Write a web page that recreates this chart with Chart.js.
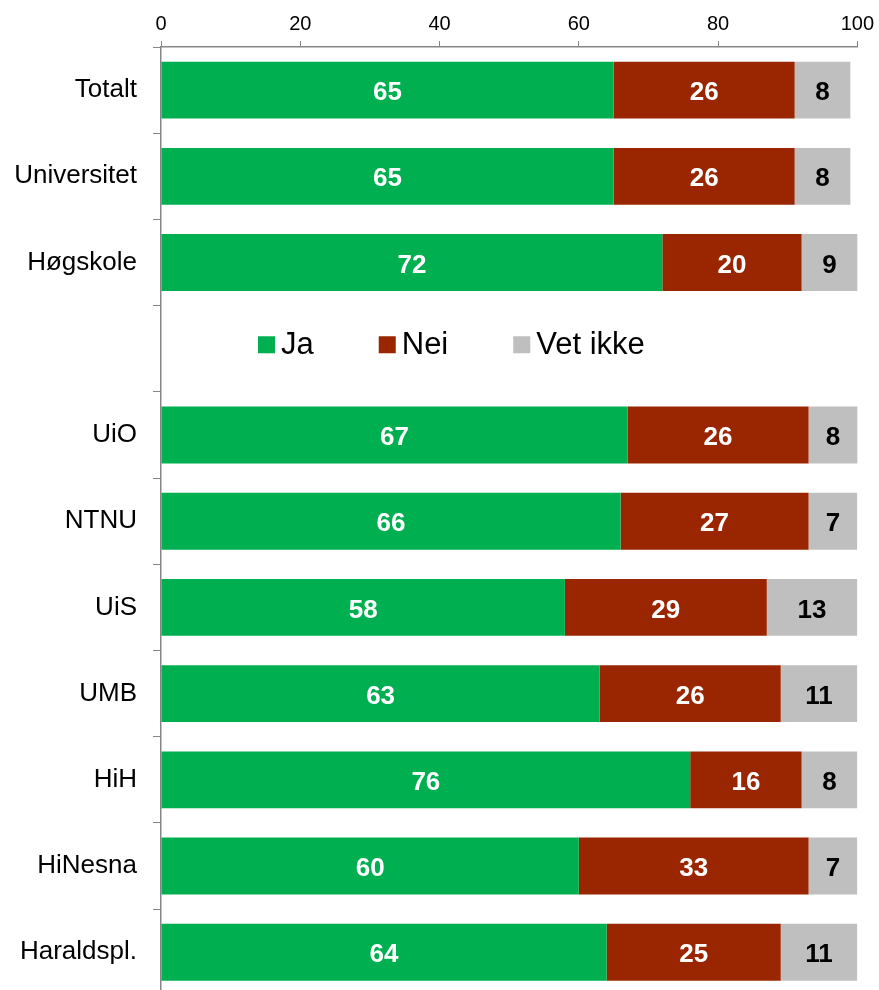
<!DOCTYPE html>
<html>
<head>
<meta charset="utf-8">
<script src="https://cdn.jsdelivr.net/npm/chart.js@4/dist/chart.umd.min.js"></script>
<style>
  html, body { margin: 0; padding: 0; background: #fff; width: 879px; height: 990px; overflow: hidden; }
  #wrap { width: 879px; height: 1027px; }
</style>
</head>
<body>
<div id="wrap"><canvas id="chart" width="879" height="1027"></canvas></div>
<script>
/* Stacked horizontal bars: Ja / Nei / Vet ikke per institution.
   The plot runs past the bottom of the window, like the original. */

const categories = ['Totalt', 'Universitet', 'Høgskole', '', 'UiO', 'NTNU', 'UiS', 'UMB', 'HiH', 'HiNesna', 'Haraldspl.'];
const ja      = [65, 65, 72, null, 67, 66, 58, 63, 76, 60, 64];
const nei     = [26, 26, 20, null, 26, 27, 29, 26, 16, 33, 25];
const vetIkke = [8, 8, 9, null, 8, 7, 13, 11, 8, 7, 11];
const seriesNames = ['Ja', 'Nei', 'Vet ikke'];
const xTicks = [0, 20, 40, 60, 80, 100];

const PALETTE = {
  green: '#00b050',
  red: '#992600',
  grey: '#bfbfbf',
  axis: '#868686',
  text: '#000000',
};
const FONT = '"Liberation Sans", Arial, sans-serif';
const LABEL_COLORS = ['#ffffff', '#ffffff', '#000000'];
const LEGEND_ROW = 3; // the empty category row holds the legend

// values written inside each bar segment
const barLabels = {
  id: 'barLabels',
  afterDatasetsDraw(chart) {
    const { ctx, chartArea } = chart;
    ctx.save();
    ctx.font = 'bold 26px ' + FONT;
    ctx.textAlign = 'center';
    ctx.textBaseline = 'middle';
    chart.data.datasets.forEach((ds, di) => {
      const meta = chart.getDatasetMeta(di);
      meta.data.forEach((bar, i) => {
        const v = ds.data[i];
        if (v == null) return;
        const right = Math.min(bar.x, chartArea.right);
        ctx.fillStyle = LABEL_COLORS[di];
        ctx.fillText(String(v), (bar.base + right) / 2, bar.y + 3);
      });
    });
    ctx.restore();
  },
};

// legend sits inside the plot, in the blank row
const rowLegend = {
  id: 'rowLegend',
  afterDraw(chart) {
    const { ctx } = chart;
    const y = chart.scales.y.getPixelForValue(LEGEND_ROW) - 4;
    const box = 17;
    let x = 258;
    ctx.save();
    ctx.font = '31px ' + FONT;
    ctx.textBaseline = 'middle';
    ctx.textAlign = 'left';
    chart.data.datasets.forEach((ds) => {
      ctx.fillStyle = ds.backgroundColor;
      ctx.fillRect(x, y - box / 2, box, box);
      x += box + 6;
      ctx.fillStyle = PALETTE.text;
      ctx.fillText(ds.label, x, y + 1);
      x += ctx.measureText(ds.label).width + 65;
    });
    ctx.restore();
  },
};

function makeDataset(label, data, color) {
  return {
    label,
    data,
    backgroundColor: color,
    borderWidth: 0,
    barPercentage: 0.66,
    categoryPercentage: 1,
  };
}

new Chart(document.getElementById('chart'), {
  type: 'bar',
  data: {
    labels: categories,
    datasets: [
      makeDataset(seriesNames[0], ja, PALETTE.green),
      makeDataset(seriesNames[1], nei, PALETTE.red),
      makeDataset(seriesNames[2], vetIkke, PALETTE.grey),
    ],
  },
  options: {
    indexAxis: 'y',
    responsive: false,
    animation: false,
    layout: { padding: { left: 0, right: 21, top: 0, bottom: 5 } },
    plugins: {
      legend: { display: false },
      tooltip: { enabled: false },
    },
    scales: {
      x: {
        position: 'top',
        stacked: true,
        min: 0,
        max: 100,
        afterBuildTicks(scale) {
          scale.ticks = xTicks.map((v) => ({ value: v }));
        },
        afterFit(scale) { scale.height = 47; },
        grid: { drawOnChartArea: false, tickLength: 6, color: PALETTE.axis },
        border: { color: PALETTE.axis, width: 1.5 },
        ticks: { font: { family: FONT, size: 20 }, color: PALETTE.text, padding: 5 },
      },
      y: {
        stacked: true,
        afterFit(scale) { scale.width = 161; },
        grid: { drawOnChartArea: false, tickLength: 8, color: PALETTE.axis, offset: true },
        border: { color: PALETTE.axis, width: 1.5 },
        ticks: { font: { family: FONT, size: 26 }, color: PALETTE.text, padding: 16 },
      },
    },
  },
  plugins: [barLabels, rowLegend],
});
</script>
</body>
</html>
